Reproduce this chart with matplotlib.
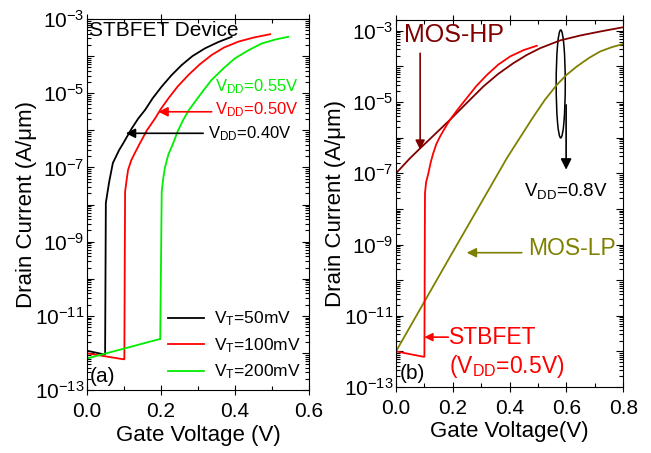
import matplotlib
matplotlib.use('Agg')
import matplotlib.pyplot as plt
from matplotlib.patches import Ellipse
from matplotlib.ticker import FixedLocator, FuncFormatter, LogLocator, MultipleLocator, NullFormatter
import numpy as np

plt.rcParams['font.family'] = ['Liberation Sans', 'DejaVu Sans']
plt.rcParams['mathtext.fontset'] = 'custom'
plt.rcParams['mathtext.rm'] = 'Liberation Sans'
plt.rcParams['mathtext.it'] = 'Liberation Sans'
plt.rcParams['mathtext.bf'] = 'Liberation Sans'

# currents are stored as log10(I)

# ---- panel (a): STBFET with different thresholds ----
vg_50 = [0, 0.046, 0.049, 0.051, 0.055, 0.060, 0.070, 0.087, 0.098, 0.110, 0.121, 0.138,
         0.157, 0.178, 0.202, 0.228, 0.256, 0.285, 0.319, 0.355, 0.391]
log_50 = [-11.94, -12.04, -12.04, -7.96, -7.70, -7.39, -6.88, -6.53, -6.35, -6.14, -5.95, -5.69,
          -5.45, -5.13, -4.82, -4.52, -4.24, -4.00, -3.79, -3.62, -3.48]

vg_100 = [0, 0.098, 0.101, 0.103, 0.107, 0.111, 0.120, 0.130, 0.143, 0.162, 0.184, 0.200,
          0.220, 0.245, 0.274, 0.305, 0.337, 0.370, 0.409, 0.450, 0.495]
log_100 = [-12.01, -12.17, -12.17, -7.66, -7.35, -7.07, -6.80, -6.60, -6.35, -6.00, -5.68, -5.42,
           -5.14, -4.82, -4.51, -4.22, -3.97, -3.77, -3.61, -3.50, -3.41]

vg_200 = [0, 0.195, 0.198, 0.202, 0.206, 0.211, 0.220, 0.233, 0.245, 0.260, 0.275, 0.292,
          0.315, 0.337, 0.370, 0.400, 0.435, 0.472, 0.510, 0.544]
log_200 = [-12.15, -11.63, -11.63, -7.66, -7.30, -6.99, -6.65, -6.35, -6.03, -5.72, -5.46, -5.23,
           -4.92, -4.64, -4.32, -4.06, -3.85, -3.66, -3.55, -3.48]

# ---- panel (b): STBFET vs MOSFETs ----
vg_hp = [0, 0.049, 0.085, 0.190, 0.250, 0.308, 0.360, 0.413, 0.460, 0.507, 0.578, 0.650,
         0.719, 0.8]
log_hp = [-7.00, -6.58, -6.30, -5.50, -5.02, -4.56, -4.21, -3.91, -3.68, -3.49, -3.27, -3.13,
          -3.02, -2.90]

vg_lp = [0, 0.184, 0.367, 0.390, 0.430, 0.484, 0.525, 0.566, 0.600, 0.637, 0.680, 0.719,
         0.760, 0.8]
log_lp = [-12.00, -9.43, -6.90, -6.58, -6.08, -5.41, -4.93, -4.52, -4.24, -4.00, -3.76, -3.58,
          -3.46, -3.37]

vg_stb = [0, 0.096, 0.100, 0.102, 0.106, 0.114, 0.122, 0.131, 0.142, 0.155, 0.170, 0.190,
          0.218, 0.249, 0.283, 0.320, 0.360, 0.402, 0.450, 0.496]
log_stb = [-12.00, -12.15, -12.15, -7.56, -7.25, -7.00, -6.70, -6.44, -6.18, -5.97, -5.76, -5.50,
           -5.20, -4.89, -4.55, -4.24, -3.95, -3.72, -3.54, -3.42]

c_hp = '#800000'
c_lp = '#808000'
c_green = '#00ee00'

fig = plt.figure(figsize=(6.51, 4.53), dpi=100)
ax1 = fig.add_axes([0.1336, 0.139, 0.341, 0.819])
ax2 = fig.add_axes([0.6083, 0.1457, 0.349, 0.810])

ax1.plot(vg_50, np.power(10.0, log_50), color='black', lw=1.3, label=r'V$_\mathrm{T}$=50mV')
ax1.plot(vg_100, np.power(10.0, log_100), color='red', lw=1.3, label=r'V$_\mathrm{T}$=100mV')
ax1.plot(vg_200, np.power(10.0, log_200), color=c_green, lw=1.3, label=r'V$_\mathrm{T}$=200mV')

ax2.plot(vg_hp, np.power(10.0, log_hp), color=c_hp, lw=1.3)
ax2.plot(vg_lp, np.power(10.0, log_lp), color=c_lp, lw=1.3)
ax2.plot(vg_stb, np.power(10.0, log_stb), color='red', lw=1.3)


def dec_fmt(v, pos):
    e = int(round(np.log10(v)))
    if e % 2 == 0:
        return ''
    return r'$10^{%d}$' % e


for ax, xmax, ytop in [(ax1, 0.6, 1e-3), (ax2, 0.8, 2e-3)]:
    ax.set_yscale('log')
    ax.set_xlim(0, xmax)
    ax.set_ylim(1e-13, ytop)
    ax.xaxis.set_major_locator(MultipleLocator(0.2))
    ax.xaxis.set_minor_locator(MultipleLocator(0.1))
    ax.yaxis.set_major_locator(FixedLocator([10.0 ** e for e in range(-13, -2)]))
    ax.yaxis.set_major_formatter(FuncFormatter(dec_fmt))
    ax.yaxis.set_minor_locator(LogLocator(base=10, subs=np.arange(2, 10), numticks=30))
    ax.yaxis.set_minor_formatter(NullFormatter())
    ax.tick_params(axis='both', which='both', direction='in', top=True, right=True, width=0.8)
    ax.tick_params(axis='x', which='major', direction='inout', length=7, labelsize=15, pad=5)
    ax.tick_params(axis='y', which='major', length=5, labelsize=15, pad=2)
    ax.tick_params(which='minor', length=3)
    ax.set_ylabel(u'Drain Current (A/\u03bcm)', fontsize=16, labelpad=-2)
    for s in ax.spines.values():
        s.set_linewidth(0.8)

ax1.set_xlabel('Gate Voltage (V)', fontsize=16, labelpad=3)
ax2.set_xlabel('Gate Voltage(V)', fontsize=16, labelpad=2)

# panel (a) annotations
ax1.text(0.006, 10 ** -3.3, 'STBFET Device', fontsize=15, va='center', ha='left')
ax1.text(0.008, 10 ** -12.64, '(a)', fontsize=15, va='center', ha='left')
ax1.text(0.346, 10 ** -4.82, r'V$_\mathrm{DD}$=0.55V', color=c_green, fontsize=12, va='center')
ax1.text(0.346, 10 ** -5.45, r'V$_\mathrm{DD}$=0.50V', color='red', fontsize=12, va='center')
ax1.text(0.328, 10 ** -6.08, r'V$_\mathrm{DD}$=0.40V', color='black', fontsize=12, va='center')
ax1.annotate('', xy=(0.193, 10 ** -5.5), xytext=(0.337, 10 ** -5.5),
             arrowprops=dict(arrowstyle='-|>', color='red', lw=1.2, mutation_scale=14,
                             shrinkA=0, shrinkB=0))
ax1.annotate('', xy=(0.105, 10 ** -6.08), xytext=(0.314, 10 ** -6.08),
             arrowprops=dict(arrowstyle='-|>', color='black', lw=1.2, mutation_scale=14,
                             shrinkA=0, shrinkB=0))
ax1.legend(loc='lower right', bbox_to_anchor=(1.0, 0.0), frameon=False, fontsize=12.5,
           handlelength=2.1, handletextpad=0.55, labelspacing=0.45, borderaxespad=0.2,
           borderpad=0.3)

# panel (b) annotations
ax2.text(0.028, 10 ** -3.11, 'MOS-HP', color=c_hp, fontsize=18, va='center')
ax2.annotate('', xy=(0.085, 10 ** -6.34), xytext=(0.085, 10 ** -3.63),
             arrowprops=dict(arrowstyle='-|>', color=c_hp, lw=1.2, mutation_scale=14,
                             shrinkA=0, shrinkB=0))
ax2.text(0.466, 10 ** -9.1, 'MOS-LP', color=c_lp, fontsize=16.5, va='center')
ax2.annotate('', xy=(0.249, 10 ** -9.23), xytext=(0.443, 10 ** -9.23),
             arrowprops=dict(arrowstyle='-|>', color=c_lp, lw=1.2, mutation_scale=14,
                             shrinkA=0, shrinkB=0))
ax2.text(0.188, 10 ** -11.6, 'STBFET', color='red', fontsize=16.5, va='center')
ax2.text(0.188, 10 ** -12.43, r'(V$_\mathrm{DD}$=0.5V)', color='red', fontsize=16.5, va='center')
ax2.annotate('', xy=(0.0997, 10 ** -11.6), xytext=(0.184, 10 ** -11.6),
             arrowprops=dict(arrowstyle='-|>', color='red', lw=1.2, mutation_scale=12,
                             shrinkA=0, shrinkB=0))
ax2.text(0.449, 10 ** -7.51, r'V$_\mathrm{DD}$=0.8V', color='black', fontsize=13.5, va='center')
ax2.text(0.014, 10 ** -12.62, '(b)', fontsize=15, va='center', ha='left')
ax2.add_patch(Ellipse((0.725, 0.826), 0.040, 0.294, transform=ax2.transAxes,
                      fill=False, edgecolor='black', lw=1.1))
ax2.annotate('', xy=(0.599, 10 ** -6.9), xytext=(0.599, 10 ** -5.08),
             arrowprops=dict(arrowstyle='-|>', color='black', lw=1.2, mutation_scale=16,
                             shrinkA=0, shrinkB=0))

fig.savefig('out.png', dpi=100)
